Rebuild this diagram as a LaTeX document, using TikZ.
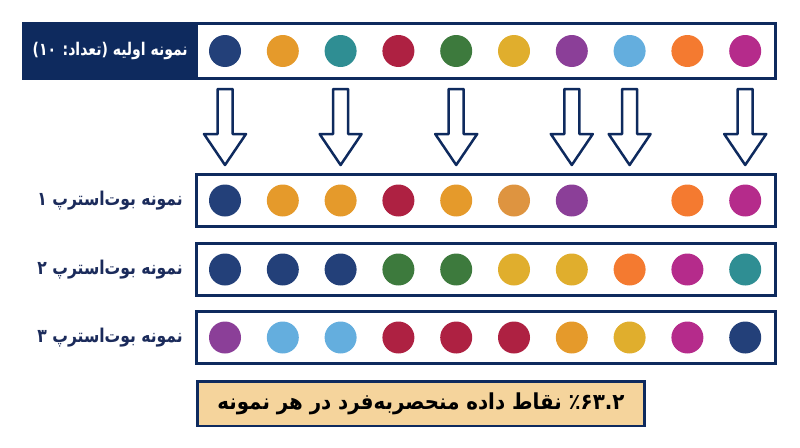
\documentclass[tikz,border=0pt]{standalone}
\usepackage{fontspec}
\newfontfamily\arabicfont[Script=Arabic]{DejaVu Sans}
\newfontfamily\arabicnarrow[Script=Arabic,FakeStretch=0.82]{DejaVu Sans}
\newfontfamily\arabictop[Script=Arabic,FakeStretch=0.8]{DejaVu Sans}
\newfontfamily\arabicnote[Script=Arabic,FakeStretch=0.9]{DejaVu Sans}
\TeXXeTstate=1
\usetikzlibrary{calc}

\definecolor{navy}{HTML}{0E2A5E}
\definecolor{labeltext}{HTML}{1B2B5B}
\definecolor{notefill}{HTML}{F5D49C}
\definecolor{cnavy}{HTML}{234079}
\definecolor{camber}{HTML}{E59A2B}
\definecolor{camberb}{HTML}{DE9440}
\definecolor{cteal}{HTML}{2F8E93}
\definecolor{ccrimson}{HTML}{AE2142}
\definecolor{cgreen}{HTML}{3D7A3D}
\definecolor{cgold}{HTML}{E0AE2D}
\definecolor{cpurple}{HTML}{8B3F98}
\definecolor{clight}{HTML}{64AEDE}
\definecolor{corange}{HTML}{F47A30}
\definecolor{cmagenta}{HTML}{B52B8B}

\begin{document}
\begin{tikzpicture}[x=1pt,y=-1pt,
    dot/.style={circle,minimum size=32pt,inner sep=0pt},
    rowbox/.style={draw=navy,line width=3pt,minimum width=579pt,minimum height=52pt,inner sep=0pt},
    lbl/.style={anchor=east,inner sep=0pt,text=labeltext,
      font=\arabicnarrow\bfseries\fontsize{19}{22}\selectfont},
    blockarrow/.style={draw=navy,line width=2.5pt,line join=round}]
  \useasboundingbox (0,0) rectangle (800,447);
  % original sample
  \fill[navy] (22,22) rectangle (198,80);
  \node[draw=navy,line width=3pt,minimum width=752pt,minimum height=55pt,inner sep=0pt]
    (orig) at (399.5,51) {};
  \node[lbl,text=white,font=\arabictop\bfseries\fontsize{17.5}{21}\selectfont] (origlbl) at (188,51)
    {\beginR نمونه اولیه (تعداد: \beginL۱۰\endL)\endR};
  \foreach \c [count=\i] in {cnavy,camber,cteal,ccrimson,cgreen,cgold,cpurple,clight,corange,cmagenta}
    \node[dot,fill=\c] (t\i) at ({225+57.8*(\i-1)},51) {};
  % drawn points
  \foreach \i in {1,3,5,7,8,10}
    \draw[blockarrow,shift={(t\i)}]
      (-7.5,38) -- (-7.5,83) -- (-21,83) -- (0,114) -- (21,83) -- (7.5,83) -- (7.5,38) -- cycle;
  % bootstrap samples
  \foreach \y/\n/\d in {200.5/1/۱,269.5/2/۲,337.5/3/۳} {
    \node[rowbox] (row\n) at (486,\y) {};
    \node[lbl] (lbl\n) at (183,\y) {\beginR نمونه بوت‌استرپ \beginL\d\endL\endR};
  }
  \foreach \c [count=\i] in {cnavy,camber,camber,ccrimson,camber,camberb,cpurple,none,corange,cmagenta}
    \node[dot,fill=\c] (a\i) at ({225+57.8*(\i-1)},200.5) {};
  \foreach \c [count=\i] in {cnavy,cnavy,cnavy,cgreen,cgreen,cgold,cgold,corange,cmagenta,cteal}
    \node[dot,fill=\c] (b\i) at ({225+57.8*(\i-1)},269.5) {};
  \foreach \c [count=\i] in {cpurple,clight,clight,ccrimson,ccrimson,ccrimson,camber,cgold,cmagenta,cnavy}
    \node[dot,fill=\c] (c\i) at ({225+57.8*(\i-1)},337.5) {};
  % note
  \node[draw=navy,fill=notefill,line width=2.5pt,minimum width=447pt,minimum height=44.5pt,
    inner sep=0pt,text=black,font=\arabicnote\bfseries\fontsize{22}{25}\selectfont]
    (note) at (421,403.5)
    {\beginR \beginL۶۳.۲\endL٪ نقاط داده منحصربه‌فرد در هر نمونه\endR};
\end{tikzpicture}
\end{document}
